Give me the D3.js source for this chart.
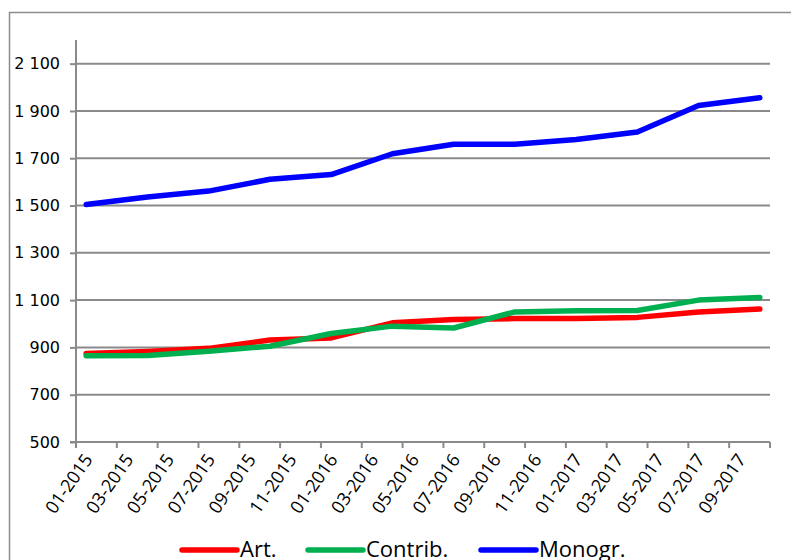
<!DOCTYPE html>
<html>
<head>
<meta charset="UTF-8">
<title>Art. / Contrib. / Monogr.</title>
<style>
  body { margin: 0; background: #fff; }
  .grid line { stroke: #8a8a8a; stroke-width: 2; }
  .axis path, .axis line { stroke: #8a8a8a; stroke-width: 2; }
</style>
</head>
<body>
<svg id="chart"></svg>
<script src="https://d3js.org/d3.v7.min.js"></script>
<script>
  // data points, one per quarter
  var dates = ["01-2015","04-2015","07-2015","10-2015","01-2016","04-2016",
               "07-2016","10-2016","01-2017","04-2017","07-2017","10-2017"];
  var art     = [874, 883, 896, 931, 940, 1004, 1018, 1022, 1022, 1027, 1050, 1062];
  var contrib = [865, 866, 884, 905, 959, 990, 982, 1050, 1055, 1056, 1100, 1111];
  var monogr  = [1504, 1536, 1561, 1611, 1631, 1719, 1759, 1759, 1779, 1811, 1923, 1956];
  var seriesNames = ["Art.", "Contrib.", "Monogr."];
  var colors = ["#ff0000", "#00b050", "#0000ff"];
  var yTicks = [500, 700, 900, 1100, 1300, 1500, 1700, 1900, 2100];

  var W = 791, H = 560;
  var pL = 76, pR = 770, pT = 40, pB = 442;

  var svg = d3.select("#chart").attr("width", W).attr("height", H);

  // chart border (only top and left visible)
  svg.append("path")
    .attr("d", "M9.5," + H + "V12.5H" + W)
    .attr("fill", "none")
    .attr("stroke", "#8c8c8c")
    .attr("stroke-width", 1.5);

  // month categories for the axis
  var parse = d3.timeParse("%m-%Y"), fmt = d3.timeFormat("%m-%Y");
  var months = d3.timeMonth.range(parse("01-2015"), parse("11-2017")).map(fmt);

  var x = d3.scaleBand().domain(months).range([pL, pR]).padding(0);
  var y = d3.scaleLinear().domain([500, 2200]).range([pB, pT]);

  // horizontal gridlines
  svg.append("g").attr("class", "grid")
    .selectAll("line").data(yTicks.slice(1)).enter().append("line")
    .attr("x1", pL).attr("x2", pR)
    .attr("y1", function(d) { return y(d); })
    .attr("y2", function(d) { return y(d); });

  // y axis
  var yAxis = svg.append("g").attr("class", "axis")
    .attr("transform", "translate(" + pL + ",0)")
    .call(d3.axisLeft(y).tickValues(yTicks).tickSize(6).tickSizeOuter(0)
      .tickFormat(function(d) { return d3.format(",")(d).replace(",", " "); }));
  yAxis.select(".domain").attr("d", "M0," + pB + "V" + pT);
  yAxis.selectAll("text")
    .attr("x", -16)
    .style("font-family", "DejaVu Sans")
    .style("font-size", "16px")
    .attr("fill", "#000");

  // x axis: ticks between every 2 months, labels on every 2nd month
  var edgeTicks = months.filter(function(d, i) { return i % 2 === 0; });
  var xa = svg.append("g").attr("class", "axis");
  xa.append("line")
    .attr("x1", pL - 6).attr("x2", pR)
    .attr("y1", pB).attr("y2", pB);
  xa.selectAll("line.tk").data(edgeTicks.concat(["end"])).enter().append("line")
    .attr("class", "tk")
    .attr("x1", function(d) { return d === "end" ? pR : x(d); })
    .attr("x2", function(d) { return d === "end" ? pR : x(d); })
    .attr("y1", pB).attr("y2", pB + 6);
  xa.selectAll("text").data(edgeTicks).enter().append("text")
    .attr("transform", function(d) {
      return "translate(" + (x(d) + x.bandwidth() / 2 + 2) + "," + (pB + 14) + ") rotate(-55)";
    })
    .attr("text-anchor", "end")
    .attr("dy", "0.35em")
    .style("font-family", "Open Sans")
    .style("font-size", "18px")
    .attr("fill", "#000")
    .text(function(d) { return d; });

  // lines
  var line = d3.line()
    .x(function(d, i) { return x(dates[i]) + x.bandwidth() / 2; })
    .y(function(d) { return y(d); });

  [art, contrib, monogr].forEach(function(s, k) {
    svg.append("path")
      .datum(s)
      .attr("d", line)
      .attr("fill", "none")
      .attr("stroke", colors[k])
      .attr("stroke-width", 5.5)
      .attr("stroke-linejoin", "round")
      .attr("stroke-linecap", "round");
  });

  // legend
  var legX = [182, 308, 481];
  var leg = svg.append("g");
  seriesNames.forEach(function(n, k) {
    leg.append("line")
      .attr("x1", legX[k]).attr("x2", legX[k] + 55)
      .attr("y1", 550).attr("y2", 550)
      .attr("stroke", colors[k])
      .attr("stroke-width", 5.5)
      .attr("stroke-linecap", "round");
    leg.append("text")
      .attr("x", legX[k] + 58).attr("y", 557)
      .style("font-family", "Open Sans")
      .style("font-size", "22px")
      .attr("fill", "#000")
      .text(n);
  });
</script>
</body>
</html>
